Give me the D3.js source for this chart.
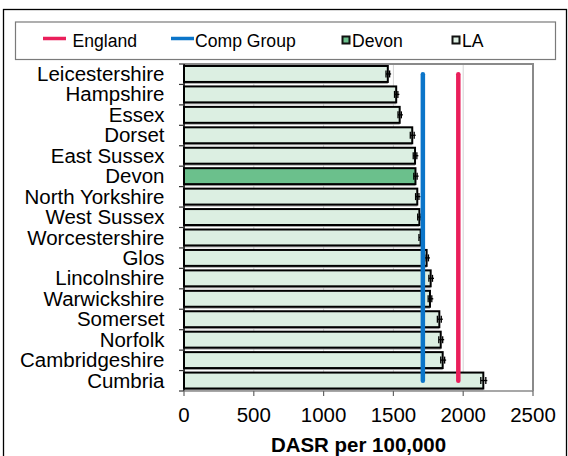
<!DOCTYPE html>
<html>
<head>
<meta charset="utf-8">
<script src="https://cdn.jsdelivr.net/npm/d3@7"></script>
<style>
  html, body { margin: 0; padding: 0; background: #fff; }
  svg { display: block; }
  text { font-family: "Liberation Sans", Arial, sans-serif; fill: #000; }
</style>
</head>
<body>
<svg id="chart" width="568" height="456"></svg>
<script>
// Local authorities, ordered from lowest to highest rate
const areas = ["Leicestershire", "Hampshire", "Essex", "Dorset", "East Sussex", "Devon",
  "North Yorkshire", "West Sussex", "Worcestershire", "Glos", "Lincolnshire",
  "Warwickshire", "Somerset", "Norfolk", "Cambridgeshire", "Cumbria"];
// Directly age-standardised rate per 100,000
const rates = [1460, 1520, 1545, 1635, 1655, 1658, 1671, 1686, 1695, 1738, 1767, 1762,
  1829, 1839, 1853, 2144];
// Half width of the 95% confidence interval
const ciHalf = [13, 12, 12, 14, 13, 12, 12, 12, 12, 13, 13, 13, 14, 14, 14, 18];
const highlightArea = "Devon";
const englandRate = 1965;
const compGroupRate = 1711;
const xTicks = [0, 500, 1000, 1500, 2000, 2500];
const legendLabels = ["England", "Comp Group", "Devon", "LA"];
const axisTitle = "DASR per 100,000";

const colors = {
  england: "#ea1f5b",
  comp: "#0b75c9",
  devon: "#6bc08c",
  la: "#dcefe2",
  grid: "#d4d4d4",
  frame: "#8a8a8a"
};

const svg = d3.select("#chart");
const plot = { left: 184, right: 533, top: 64, bottom: 391 };

const x = d3.scaleLinear().domain([0, 2500]).range([plot.left, plot.right]);
const y = d3.scaleBand().domain(areas).range([plot.top, plot.bottom]).padding(0);

// Text helper with an optional horizontal stretch
function addText(g, px, py, str, size, anchor, weight, sx) {
  return g.append("text")
    .attr("transform", `translate(${px},${py}) scale(${sx || 1.05},1)`)
    .attr("text-anchor", anchor || "start")
    .style("font-size", size + "px")
    .style("font-weight", weight || "normal")
    .text(str);
}

// Outer chart frame
svg.append("rect")
  .attr("x", 3.5).attr("y", 9.5).attr("width", 563).attr("height", 470)
  .attr("fill", "none").attr("stroke", "#000").attr("stroke-width", 1.3);

// Legend
const legend = svg.append("g");
legend.append("rect")
  .attr("x", 15.5).attr("y", 22).attr("width", 540).attr("height", 37.5)
  .attr("fill", "#fff").attr("stroke", "#7a7a7a").attr("stroke-width", 1.2);
legend.append("line").attr("x1", 43).attr("x2", 66).attr("y1", 38.5).attr("y2", 38.5)
  .attr("stroke", colors.england).attr("stroke-width", 3.5);
addText(legend, 72.5, 46.5, legendLabels[0], 17.6, "start", "normal", 1);
legend.append("line").attr("x1", 171).attr("x2", 194).attr("y1", 38.5).attr("y2", 38.5)
  .attr("stroke", colors.comp).attr("stroke-width", 3.5);
addText(legend, 195, 46.5, legendLabels[1], 17.6, "start", "normal", 1);
legend.append("rect").attr("x", 342.5).attr("y", 36.5).attr("width", 7).attr("height", 7)
  .attr("fill", colors.devon).attr("stroke", "#111").attr("stroke-width", 2);
addText(legend, 352, 46.5, legendLabels[2], 17.6, "start", "normal", 1);
legend.append("rect").attr("x", 452.5).attr("y", 36.5).attr("width", 7).attr("height", 7)
  .attr("fill", colors.la).attr("stroke", "#111").attr("stroke-width", 2);
addText(legend, 462, 46.5, legendLabels[3], 17.6, "start", "normal", 1);

// Vertical gridlines
svg.append("g").selectAll("line")
  .data(xTicks.slice(1, -1))
  .join("line")
  .attr("x1", d => x(d)).attr("x2", d => x(d))
  .attr("y1", plot.top).attr("y2", plot.bottom)
  .attr("stroke", colors.grid).attr("stroke-width", 1);

// Plot area border (top and right)
svg.append("path")
  .attr("d", `M${plot.left},${plot.top}H${plot.right}V${plot.bottom}`)
  .attr("fill", "none").attr("stroke", colors.frame).attr("stroke-width", 2);

// Bars with a soft shadow underneath
const barH = y.bandwidth() - 4.5;
const bars = svg.append("g");
bars.selectAll("rect.shadow")
  .data(areas)
  .join("rect")
  .attr("class", "shadow")
  .attr("x", x(0))
  .attr("y", d => y(d) + 4)
  .attr("width", (d, i) => x(rates[i]) - x(0))
  .attr("height", barH)
  .attr("fill", "#a9a9a9");
bars.selectAll("rect.bar")
  .data(areas)
  .join("rect")
  .attr("class", "bar")
  .attr("x", x(0))
  .attr("y", d => y(d) + 2)
  .attr("width", (d, i) => x(rates[i]) - x(0))
  .attr("height", barH)
  .attr("fill", d => d === highlightArea ? colors.devon : colors.la)
  .attr("stroke", "#000").attr("stroke-width", 2);

// Confidence interval whiskers
const eb = svg.append("g").attr("stroke", "#000").attr("stroke-width", 1.3);
areas.forEach((a, i) => {
  const cy = y(a) + 2 + barH / 2;
  const lo = x(rates[i] - ciHalf[i]), hi = x(rates[i] + ciHalf[i]);
  eb.append("line").attr("x1", lo).attr("x2", hi + 1.5).attr("y1", cy).attr("y2", cy);
  eb.append("line").attr("x1", lo).attr("x2", lo).attr("y1", cy - 3.5).attr("y2", cy + 3.5);
  eb.append("line").attr("x1", hi).attr("x2", hi).attr("y1", cy - 3.5).attr("y2", cy + 3.5);
});

// England and comparator group reference lines
const refTop = y(areas[0]) + y.bandwidth() / 2;
const refBottom = y(areas[areas.length - 1]) + y.bandwidth() / 2;
[[compGroupRate, colors.comp], [englandRate, colors.england]].forEach(([v, c]) => {
  svg.append("line")
    .attr("x1", x(v)).attr("x2", x(v))
    .attr("y1", refTop).attr("y2", refBottom)
    .attr("stroke", c).attr("stroke-width", 4.5).attr("stroke-linecap", "round");
});

// Category axis: ticks between categories
const yAxis = svg.append("g");
yAxis.append("line")
  .attr("x1", plot.left).attr("x2", plot.left)
  .attr("y1", plot.top).attr("y2", plot.bottom)
  .attr("stroke", "#000").attr("stroke-width", 1.5);
yAxis.selectAll("line.tick")
  .data(areas.map(a => y(a)).concat([plot.bottom]))
  .join("line")
  .attr("class", "tick")
  .attr("x1", plot.left - 5).attr("x2", plot.left)
  .attr("y1", d => d).attr("y2", d => d)
  .attr("stroke", "#333").attr("stroke-width", 1.2);
areas.forEach(a => {
  addText(yAxis, 164.5, y(a) + y.bandwidth() / 2 + 6.8, a, 19.5, "end");
});

// Value axis
const xAxis = svg.append("g");
xAxis.append("line")
  .attr("x1", plot.left).attr("x2", plot.right)
  .attr("y1", plot.bottom).attr("y2", plot.bottom)
  .attr("stroke", colors.frame).attr("stroke-width", 1.5);
xAxis.selectAll("line.tick")
  .data(xTicks)
  .join("line")
  .attr("class", "tick")
  .attr("x1", d => x(d)).attr("x2", d => x(d))
  .attr("y1", plot.bottom).attr("y2", plot.bottom + 5)
  .attr("stroke", "#666").attr("stroke-width", 1.2);
xTicks.forEach(t => {
  addText(xAxis, x(t), 422, d3.format("d")(t), 19.5, "middle");
});
addText(xAxis, (plot.left + plot.right) / 2, 452, axisTitle, 19.5, "middle", "bold");
</script>
</body>
</html>
